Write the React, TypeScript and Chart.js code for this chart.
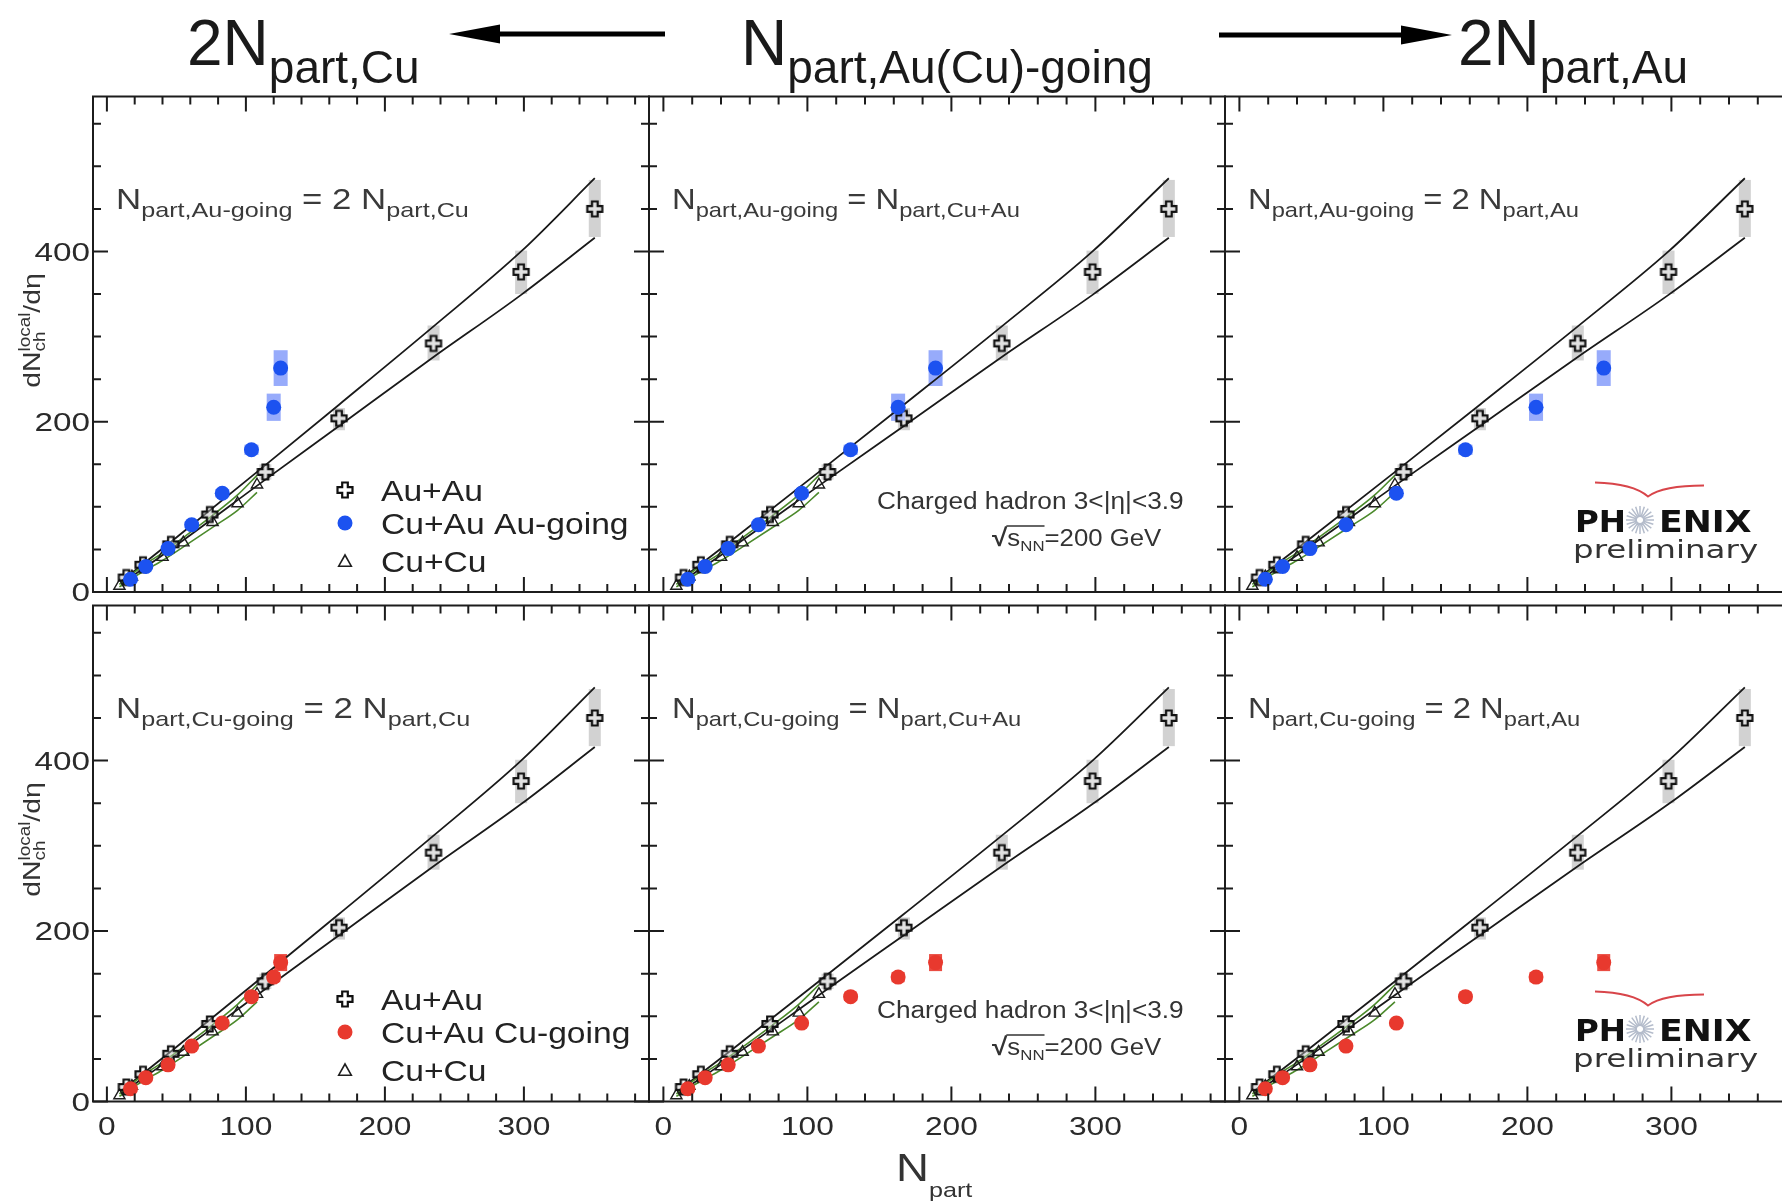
import React, { useEffect, useRef } from 'react';
import { Chart, registerables } from 'chart.js';

Chart.register(...registerables);

// ---------------- data ----------------
const AUAU_NPART = [14, 26, 46, 74, 114, 167, 235, 298, 351];
const AUAU_DNDETA = [17, 32, 56, 91, 141, 204, 292, 376, 450];
const AUAU_SYS_LO = [16, 30, 53, 86, 132, 190, 272, 350, 417];
const AUAU_SYS_HI = [18, 34, 59, 96, 150, 216, 313, 401, 484];

const BAND_NPART = [10, 50, 114, 167, 235, 298, 351];
const BAND_UPPER = [12, 64, 149, 220, 312, 400, 486];
const BAND_LOWER = [9, 55, 132, 195, 276, 349, 416];

const CUCU_NPART = [9, 18, 27, 40, 55, 76, 94, 108];
const CUCU_DNDETA = [7, 18, 28, 41, 58, 82, 104, 126];
const CUCU_SYS_LO = [6, 16, 25, 37, 53, 76, 96, 117];
const CUCU_SYS_HI = [9, 21, 32, 46, 64, 90, 114, 137];

const NPART_2CU = [17, 28, 44, 61, 83, 104, 120, 125];
const NPART_CUAU = [17, 29, 45, 66, 96, 130, 163, 189];
const NPART_2AU = [18, 30, 49, 74, 109, 157, 206, 253];

const CUAU_AUGOING = [15, 30, 51, 79, 116, 167, 217, 263];
const CUAU_AUGOING_SYS_LO = [13, 28, 48, 75, 111, 161, 201, 242];
const CUAU_AUGOING_SYS_HI = [17, 32, 54, 83, 121, 173, 233, 284];
const CUAU_CUGOING = [15, 28, 43, 65, 92, 123, 146, 163];
const CUAU_CUGOING_SYS_LO = [14, 27, 41, 62, 88, 118, 140, 153];
const CUAU_CUGOING_SYS_HI = [16, 29, 45, 68, 96, 128, 152, 173];

const X_TICK_VALUES = [0, 100, 200, 300];
const X_TICK_LABELS = ['0', '100', '200', '300'];
const Y_TICK_VALUES = [0, 200, 400];
const Y_TICK_LABELS = ['0', '200', '400'];

const LEGEND_LABELS = [
  ['Au+Au', 'Cu+Au Au-going', 'Cu+Cu'],
  ['Au+Au', 'Cu+Au Cu-going', 'Cu+Cu'],
];
const TITLE_LEFT_SUB = ['part,Au-going', 'part,Cu-going'];
const TITLE_RIGHT_PRE = [' = 2 N', ' = N', ' = 2 N'];
const TITLE_RIGHT_SUB = ['part,Cu', 'part,Cu+Au', 'part,Au'];
const HEADER_SUBS = ['part,Cu', 'part,Au(Cu)-going', 'part,Au'];
const HEADER_MAINS = ['2N', 'N', '2N'];

// ---------------- layout / style ----------------
const X_MIN = -10;
const X_MAX = 390;
const Y_MIN = 0;
const Y_MAX = 582;
const CANVAS_W = 1830;
const CANVAS_H = 1203;
const FRAME_COLS = [[93, 649], [649, 1225], [1225, 1801]];
const FRAME_ROWS = [[96.5, 592], [605.5, 1101.5]];
const CUAU_X_BY_COL = [NPART_2CU, NPART_CUAU, NPART_2AU];

const FONT = '"Liberation Sans", Arial, Helvetica, sans-serif';
const LOGO_FONT = '"DejaVu Sans", Verdana, sans-serif';
const BLUE = '#1c52f0';
const RED = '#e8392e';
const GREEN = '#4c8a2c';

function fontStr(size: number, weight: string = 'normal', family: string = FONT) {
  return `${weight} ${size}px ${family}`;
}

type Run = { t?: string; size?: number; dy?: number; weight?: string; stack?: { t: string; size: number; dy: number }[] };

function runWidth(ctx: CanvasRenderingContext2D, r: Run, family: string) {
  if (r.stack) {
    let m = 0;
    for (const s of r.stack) {
      ctx.font = fontStr(s.size, 'normal', family);
      m = Math.max(m, ctx.measureText(s.t).width);
    }
    return m;
  }
  ctx.font = fontStr(r.size as number, r.weight || 'normal', family);
  return ctx.measureText(r.t as string).width;
}

function drawRuns(ctx: CanvasRenderingContext2D, runs: Run[], x: number, y: number, o: any = {}) {
  const family = o.family || FONT;
  ctx.save();
  ctx.translate(x, y);
  if (o.rotate) ctx.rotate(o.rotate);
  ctx.scale(o.sx || 1, o.sy || 1);
  ctx.fillStyle = o.color || '#222';
  ctx.textAlign = 'left';
  ctx.textBaseline = 'alphabetic';
  let total = 0;
  for (const r of runs) total += runWidth(ctx, r, family);
  let cx = o.align === 'right' ? -total : o.align === 'center' ? -total / 2 : 0;
  const pos: number[] = [];
  for (const r of runs) {
    const w = runWidth(ctx, r, family);
    pos.push(cx);
    if (r.stack) {
      for (const s of r.stack) {
        ctx.font = fontStr(s.size, 'normal', family);
        ctx.fillText(s.t, cx, s.dy);
      }
    } else {
      ctx.font = fontStr(r.size as number, r.weight || 'normal', family);
      ctx.fillText(r.t as string, cx, r.dy || 0);
    }
    cx += w;
  }
  pos.push(cx);
  ctx.restore();
  return pos;
}

function makeCross(): HTMLCanvasElement {
  const s = 20;
  const c = document.createElement('canvas');
  c.width = s;
  c.height = s;
  const g = c.getContext('2d') as CanvasRenderingContext2D;
  const a = 2.8;
  const L = 7.5;
  const m = s / 2;
  g.beginPath();
  g.moveTo(m - a, m - L);
  g.lineTo(m + a, m - L);
  g.lineTo(m + a, m - a);
  g.lineTo(m + L, m - a);
  g.lineTo(m + L, m + a);
  g.lineTo(m + a, m + a);
  g.lineTo(m + a, m + L);
  g.lineTo(m - a, m + L);
  g.lineTo(m - a, m + a);
  g.lineTo(m - L, m + a);
  g.lineTo(m - L, m - a);
  g.lineTo(m - a, m - a);
  g.closePath();
  g.fillStyle = 'rgba(255,255,255,0.35)';
  g.fill();
  g.lineWidth = 2.2;
  g.strokeStyle = '#111';
  g.stroke();
  return c;
}

function zip(xs: number[], ys: number[]) {
  return xs.map((x, i) => ({ x, y: ys[i] }));
}

function drawTriangle(ctx: CanvasRenderingContext2D, x: number, y: number, r: number) {
  ctx.beginPath();
  ctx.moveTo(x, y - r);
  ctx.lineTo(x + r * 0.9, y + r * 0.6);
  ctx.lineTo(x - r * 0.9, y + r * 0.6);
  ctx.closePath();
  ctx.stroke();
}

function makePlugin(row: number, col: number, cross: HTMLCanvasElement) {
  const index = row * 3 + col;
  const cuauX = CUAU_X_BY_COL[col];
  const boxes = [
    { x: AUAU_NPART, lo: AUAU_SYS_LO, hi: AUAU_SYS_HI, halfW: 6, fill: 'rgba(195,195,195,0.75)' },
    row === 0
      ? { x: cuauX, lo: CUAU_AUGOING_SYS_LO, hi: CUAU_AUGOING_SYS_HI, halfW: 7, fill: 'rgba(125,150,250,0.8)' }
      : { x: cuauX, lo: CUAU_CUGOING_SYS_LO, hi: CUAU_CUGOING_SYS_HI, halfW: 6.5, fill: 'rgba(232,57,46,0.9)' },
  ];
  return {
    id: 'decor' + index,
    beforeDatasetsDraw(chart: any) {
      const ctx: CanvasRenderingContext2D = chart.ctx;
      const xs = chart.scales.x;
      const ys = chart.scales.y;
      const a = chart.chartArea;
      ctx.save();
      ctx.beginPath();
      ctx.rect(a.left, a.top, a.right - a.left, a.bottom - a.top);
      ctx.clip();
      for (const b of boxes) {
        ctx.fillStyle = b.fill;
        b.x.forEach((xv: number, i: number) => {
          const px = xs.getPixelForValue(xv);
          const y1 = ys.getPixelForValue(b.hi[i]);
          const y2 = ys.getPixelForValue(b.lo[i]);
          ctx.fillRect(px - b.halfW, y1, 2 * b.halfW, y2 - y1);
        });
      }
      ctx.restore();
    },
    afterDraw(chart: any) {
      const ctx: CanvasRenderingContext2D = chart.ctx;
      const xs = chart.scales.x;
      const ys = chart.scales.y;
      const a = chart.chartArea;
      const { left, right, top, bottom } = a;

      // frame + inward ticks on all sides
      ctx.save();
      ctx.strokeStyle = '#1c1c1c';
      ctx.lineWidth = 2;
      ctx.strokeRect(left, top, right - left, bottom - top);
      ctx.beginPath();
      for (let v = 0; v <= X_MAX; v += 20) {
        const px = xs.getPixelForValue(v);
        const len = v % 100 === 0 ? 15 : 8;
        ctx.moveTo(px, bottom);
        ctx.lineTo(px, bottom - len);
        ctx.moveTo(px, top);
        ctx.lineTo(px, top + len);
      }
      for (let v = 0; v <= Y_MAX; v += 50) {
        const py = ys.getPixelForValue(v);
        const len = v % 200 === 0 ? 15 : 8;
        ctx.moveTo(left, py);
        ctx.lineTo(left + len, py);
        ctx.moveTo(right, py);
        ctx.lineTo(right - len, py);
      }
      ctx.stroke();
      ctx.restore();

      // y tick labels
      if (col === 0) {
        Y_TICK_VALUES.forEach((v, i) => {
          const py = ys.getPixelForValue(v);
          ctx.save();
          if (row === 0 && v === 0) {
            ctx.beginPath();
            ctx.rect(0, py - 30, left, 30 + 9);
            ctx.clip();
          }
          drawRuns(ctx, [{ t: Y_TICK_LABELS[i], size: 26 }], left - 3, py + 9.3, { sx: 1.28, align: 'right', color: '#2a2a2a' });
          ctx.restore();
        });
        // y axis title
        drawRuns(
          ctx,
          [
            { t: 'dN', size: 24 },
            { stack: [{ t: 'local', size: 16, dy: -10 }, { t: 'ch', size: 16, dy: 5 }] },
            { t: '/dη', size: 24 },
          ],
          40,
          top + 234,
          { rotate: -Math.PI / 2, sx: 1.18, align: 'center', color: '#333' }
        );
      }

      // x tick labels
      if (row === 1) {
        X_TICK_VALUES.forEach((v, i) => {
          const px = xs.getPixelForValue(v);
          drawRuns(ctx, [{ t: X_TICK_LABELS[i], size: 26 }], px, bottom + 33.5, { sx: 1.22, align: 'center', color: '#2a2a2a' });
        });
      }

      // panel title
      drawRuns(
        ctx,
        [
          { t: 'N', size: 29 },
          { t: TITLE_LEFT_SUB[row], size: 21, dy: 8 },
          { t: TITLE_RIGHT_PRE[col], size: 29 },
          { t: TITLE_RIGHT_SUB[col], size: 21, dy: 8 },
        ],
        left + 23,
        top + 112,
        { sx: col === 0 ? 1.2 : 1.13, color: '#3a3a3a' }
      );

      // legend
      if (col === 0) {
        const mx = left + 252;
        const tx = left + 288;
        const rows = [top + 393.5, top + 426.5, top + 464.5];
        ctx.save();
        ctx.drawImage(cross, mx - cross.width / 2, rows[0] - cross.height / 2);
        ctx.fillStyle = row === 0 ? BLUE : RED;
        ctx.beginPath();
        ctx.arc(mx, rows[1], 7.5, 0, Math.PI * 2);
        ctx.fill();
        ctx.strokeStyle = '#1d1d1d';
        ctx.lineWidth = 1.6;
        drawTriangle(ctx, mx, rows[2] + 1, 7);
        ctx.restore();
        LEGEND_LABELS[row].forEach((lab, i) => {
          drawRuns(ctx, [{ t: lab, size: 30 }], tx, rows[i] + 11, { sx: 1.12, color: '#222' });
        });
      }

      // energy / eta annotation
      if (col === 1) {
        drawRuns(ctx, [{ t: 'Charged hadron 3<|η|<3.9', size: 23 }], left + 228, top + 412, { sx: 1.14, color: '#333' });
        const sx = 1.12;
        const bx = left + 343;
        const by = top + 449.5;
        const pos = drawRuns(
          ctx,
          [
            { t: '√', size: 25, weight: 'bold' },
            { t: 's', size: 23 },
            { t: 'NN', size: 15, dy: 5 },
            { t: '=200 GeV', size: 23 },
          ],
          bx,
          by,
          { sx, color: '#333' }
        );
        ctx.save();
        ctx.strokeStyle = '#333';
        ctx.lineWidth = 1.5;
        ctx.beginPath();
        ctx.moveTo(bx + pos[1] * sx - 1, by - 20);
        ctx.lineTo(bx + pos[3] * sx, by - 20);
        ctx.stroke();
        ctx.restore();
      }

      // PHENIX preliminary logo
      if (col === 2) {
        ctx.save();
        ctx.strokeStyle = '#d8454a';
        ctx.lineWidth = 1.8;
        ctx.beginPath();
        ctx.moveTo(left + 370, top + 386);
        ctx.quadraticCurveTo(left + 408, top + 387, left + 423, top + 400);
        ctx.quadraticCurveTo(left + 438, top + 389, left + 479, top + 389);
        ctx.stroke();
        // starburst in place of the O
        const cx = left + 415;
        const cy = top + 423.5;
        ctx.strokeStyle = '#b4bccb';
        ctx.lineWidth = 1.5;
        ctx.beginPath();
        for (let k = 0; k < 20; k++) {
          const ang = (k * Math.PI) / 10;
          ctx.moveTo(cx + Math.cos(ang) * 3, cy + Math.sin(ang) * 3);
          ctx.lineTo(cx + Math.cos(ang) * 14, cy + Math.sin(ang) * 14);
        }
        ctx.stroke();
        ctx.restore();
        drawRuns(ctx, [{ t: 'PH', size: 31, weight: 'bold' }], left + 350, top + 435, { sx: 1.05, color: '#111', family: LOGO_FONT });
        drawRuns(ctx, [{ t: 'ENIX', size: 31, weight: 'bold' }], left + 434, top + 435, { sx: 1.12, color: '#111', family: LOGO_FONT });
        drawRuns(ctx, [{ t: 'preliminary', size: 25 }], left + 348, top + 461, { sx: 1.3, color: '#333', family: LOGO_FONT });
      }

      // header above the grid
      if (index === 1) {
        const hx = [187, 741, 1458];
        hx.forEach((x, i) => {
          drawRuns(ctx, [{ t: HEADER_MAINS[i], size: 64 }, { t: HEADER_SUBS[i], size: 46, dy: 18 }], x, 65, { color: '#1a1a1a' });
        });
        ctx.save();
        ctx.fillStyle = '#000';
        ctx.strokeStyle = '#000';
        ctx.lineWidth = 5;
        ctx.beginPath();
        ctx.moveTo(665, 34);
        ctx.lineTo(495, 34);
        ctx.moveTo(1219, 35);
        ctx.lineTo(1410, 35);
        ctx.stroke();
        ctx.beginPath();
        ctx.moveTo(449, 34);
        ctx.lineTo(500, 24.5);
        ctx.lineTo(500, 43.5);
        ctx.closePath();
        ctx.fill();
        ctx.beginPath();
        ctx.moveTo(1452, 35);
        ctx.lineTo(1401, 25.5);
        ctx.lineTo(1401, 44.5);
        ctx.closePath();
        ctx.fill();
        ctx.restore();
      }

      // x axis title
      if (index === 4) {
        drawRuns(ctx, [{ t: 'N', size: 38 }, { t: 'part', size: 21, dy: 16 }], 896, 1180.5, { sx: 1.2, color: '#333' });
      }
    },
  };
}

function buildConfig(row: number, col: number, cross: HTMLCanvasElement): any {
  const [L, R] = FRAME_COLS[col];
  const [T, B] = FRAME_ROWS[row];
  const cuauX = CUAU_X_BY_COL[col];
  const cuauY = row === 0 ? CUAU_AUGOING : CUAU_CUGOING;
  const dotColor = row === 0 ? BLUE : RED;
  const datasets = [
    {
      label: row === 0 ? 'Cu+Au Au-going' : 'Cu+Au Cu-going',
      data: zip(cuauX, cuauY),
      pointStyle: 'circle',
      pointRadius: 7.5,
      backgroundColor: dotColor,
      borderColor: dotColor,
      borderWidth: 0,
      showLine: false,
    },
    {
      label: 'Au+Au',
      data: zip(AUAU_NPART, AUAU_DNDETA),
      pointStyle: cross,
      pointRadius: 10,
      showLine: false,
    },
    {
      label: 'Cu+Cu',
      data: zip(CUCU_NPART, CUCU_DNDETA),
      pointStyle: 'triangle',
      pointRadius: 6.5,
      backgroundColor: 'rgba(255,255,255,0)',
      borderColor: '#1d1d1d',
      borderWidth: 1.4,
      showLine: false,
    },
    {
      label: 'Cu+Cu sys hi',
      data: zip(CUCU_NPART, CUCU_SYS_HI),
      showLine: true,
      pointRadius: 0,
      borderColor: GREEN,
      borderWidth: 1.6,
      cubicInterpolationMode: 'monotone',
    },
    {
      label: 'Cu+Cu sys lo',
      data: zip(CUCU_NPART, CUCU_SYS_LO),
      showLine: true,
      pointRadius: 0,
      borderColor: GREEN,
      borderWidth: 1.6,
      cubicInterpolationMode: 'monotone',
    },
    {
      label: 'Au+Au band upper',
      data: zip(BAND_NPART, BAND_UPPER),
      showLine: true,
      pointRadius: 0,
      borderColor: '#1a1a1a',
      borderWidth: 1.8,
      cubicInterpolationMode: 'monotone',
    },
    {
      label: 'Au+Au band lower',
      data: zip(BAND_NPART, BAND_LOWER),
      showLine: true,
      pointRadius: 0,
      borderColor: '#1a1a1a',
      borderWidth: 1.8,
      cubicInterpolationMode: 'monotone',
    },
  ];
  return {
    type: 'scatter',
    data: { datasets },
    options: {
      animation: false,
      responsive: false,
      devicePixelRatio: 1,
      events: [],
      layout: { padding: { left: L, right: CANVAS_W - R, top: T, bottom: CANVAS_H - B } },
      scales: {
        x: { type: 'linear', min: X_MIN, max: X_MAX, display: false },
        y: { type: 'linear', min: Y_MIN, max: Y_MAX, display: false },
      },
      plugins: { legend: { display: false }, tooltip: { enabled: false }, title: { display: false } },
    },
    plugins: [makePlugin(row, col, cross)],
  };
}

export default function App() {
  const canvasRefs = useRef<(HTMLCanvasElement | null)[]>([]);
  useEffect(() => {
    const cross = makeCross();
    const charts: Chart[] = [];
    for (let row = 0; row < 2; row++) {
      for (let col = 0; col < 3; col++) {
        const el = canvasRefs.current[row * 3 + col];
        if (el) charts.push(new Chart(el, buildConfig(row, col, cross)));
      }
    }
    return () => charts.forEach((c) => c.destroy());
  }, []);
  return (
    <div style={{ position: 'fixed', left: 0, top: 0, width: 1782, height: 1203, overflow: 'hidden', background: '#fff' }}>
      {[0, 1, 2, 3, 4, 5].map((i) => (
        <canvas
          key={i}
          ref={(el) => {
            canvasRefs.current[i] = el;
          }}
          width={CANVAS_W}
          height={CANVAS_H}
          style={{ position: 'absolute', left: 0, top: 0, width: CANVAS_W, height: CANVAS_H }}
        />
      ))}
    </div>
  );
}
